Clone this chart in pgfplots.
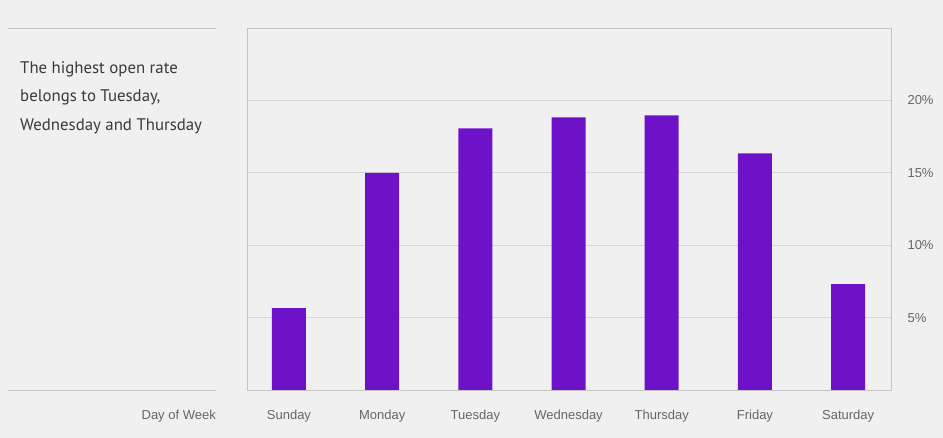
\documentclass[border=0pt]{standalone}
\usepackage{pgfplots}
\pgfplotsset{compat=1.18}
\usepackage{fontspec}
\setmainfont{Liberation Sans}
\newfontfamily\notefont{PT Sans}
\definecolor{bg}{HTML}{F0F0F0}
\definecolor{barc}{HTML}{6E12C9}
\definecolor{frame}{HTML}{C4C4C4}
\definecolor{gridc}{HTML}{D6D6D6}
\definecolor{lab}{HTML}{666666}
\definecolor{note}{HTML}{3A3A3A}
\begin{document}
\begin{tikzpicture}
\fill[bg] (0pt,0pt) rectangle (943pt,-438pt);
\useasboundingbox (0pt,0pt) rectangle (943pt,-438pt);
\draw[frame,line width=0.8pt] (8pt,-28pt) -- (216pt,-28pt);
\draw[frame,line width=0.8pt] (8pt,-390pt) -- (216pt,-390pt);
\node[anchor=north west,align=left,text=note,font=\notefont\fontsize{16.8}{28.5}\selectfont,inner sep=0pt] at (20pt,-61pt) {The highest open rate\\belongs to Tuesday,\\Wednesday and Thursday};
\node[anchor=base east,text=lab,font=\fontsize{13}{15}\selectfont,inner sep=0pt] at (216pt,-419pt) {Day of Week};
\begin{axis}[
  at={(247pt,-390pt)}, anchor=south west,
  scale only axis, width=644pt, height=362pt,
  xmin=-0.45, xmax=6.46, ymin=0, ymax=25,
  xtick={0,1,2,3,4,5,6},
  xticklabels={Sunday,Monday,Tuesday,Wednesday,Thursday,Friday,Saturday},
  ytick={5,10,15,20},
  yticklabels={5\%,10\%,15\%,20\%},
  yticklabel pos=right,
  yticklabel style={anchor=west, xshift=13pt},
  xticklabel style={anchor=base, yshift=-29pt},
  major tick length=0pt,
  tick style={draw=none},
  ymajorgrids, grid style={gridc, line width=0.8pt},
  axis line style={frame, line width=0.8pt},
  ticklabel style={text=lab, font=\fontsize{13}{15}\selectfont},
  /pgf/number format/assume math mode=true,
  axis background/.style={fill=bg},
]
\addplot[ybar, bar width=34pt, fill=barc, draw=none] coordinates {
  (0,5.66) (1,15.0) (2,18.07) (3,18.83) (4,18.97) (5,16.34) (6,7.31)
};
\end{axis}
\end{tikzpicture}
\end{document}
